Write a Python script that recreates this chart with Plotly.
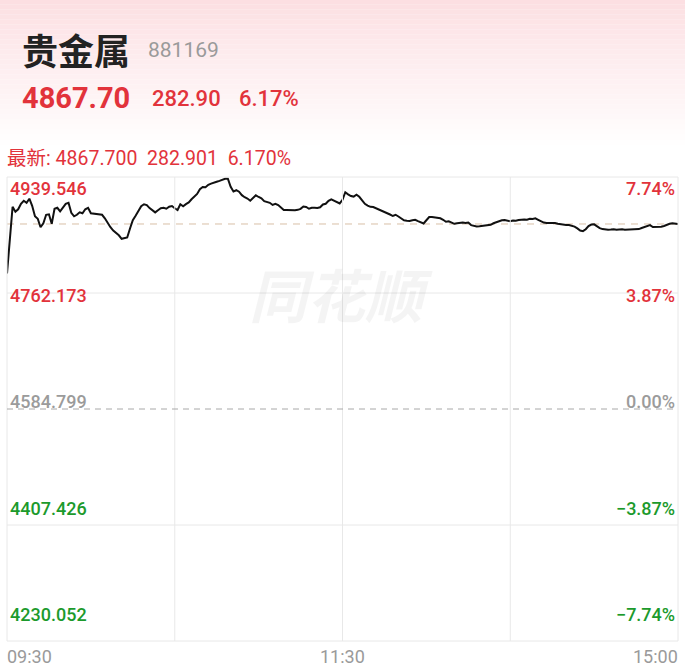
import plotly.graph_objects as go

# ---------------- data ----------------
name = "贵金属"
code = "881169"
last_price = 4867.70
change = 282.90
change_pct = 6.17
prev_close = 4584.799
latest_line = "最新: 4867.700  282.901  6.170%"

level_values = [4939.546, 4762.173, 4584.799, 4407.426, 4230.052]
level_labels = ["4939.546", "4762.173", "4584.799", "4407.426", "4230.052"]
pct_labels = ["7.74%", "3.87%", "0.00%", "-3.87%", "-7.74%"]
time_labels = ["09:30", "11:30", "15:00"]

# 09:30 .. 11:30 (121 minutes)
am_prices = [
    4792.0, 4843.0, 4894.0, 4886.4, 4890.2, 4898.6, 4903.2, 4900.1, 4906.3, 4895.5,
    4879.5, 4875.7, 4862.7, 4868.8, 4881.8, 4882.5, 4868.0, 4891.0, 4892.5, 4887.1,
    4893.3, 4898.6, 4900.1, 4884.8, 4879.5, 4881.8, 4885.6, 4884.1, 4890.2, 4892.5,
    4884.1, 4883.6, 4883.3, 4882.8, 4881.8, 4876.4, 4869.1, 4862.7, 4857.6, 4854.2,
    4850.4, 4845.1, 4846.3, 4847.0, 4860.8, 4873.4, 4880.2, 4887.6, 4894.8, 4897.8,
    4896.6, 4892.0, 4888.4, 4885.4, 4888.7, 4891.7, 4892.5, 4891.0, 4894.0, 4895.1,
    4891.7, 4889.0, 4897.8, 4894.8, 4898.1, 4900.6, 4905.5, 4909.6, 4913.6, 4920.8,
    4924.2, 4923.9, 4927.7, 4929.5, 4931.3, 4932.3, 4933.6, 4935.6, 4936.9, 4936.9,
    4924.6, 4917.3, 4919.3, 4917.0, 4911.8, 4908.6, 4906.6, 4903.2, 4907.3, 4911.6,
    4909.0, 4906.9, 4902.7, 4901.7, 4900.1, 4896.8, 4898.6, 4896.6, 4892.2, 4889.0,
    4889.0, 4888.7, 4888.4, 4888.7, 4889.3, 4890.8, 4894.5, 4893.7, 4891.0, 4892.5,
    4892.5, 4892.2, 4893.3, 4897.5, 4898.6, 4903.2, 4905.5, 4903.2, 4900.9, 4899.2,
    4904.7,
]
# 13:01 .. 15:00 (120 minutes)
pm_prices = [
    4916.2, 4913.1, 4910.4, 4909.6, 4912.4, 4909.3, 4904.0, 4898.6, 4895.9, 4894.0,
    4893.6, 4891.7, 4889.7, 4887.9, 4887.1, 4884.8, 4882.2, 4879.9, 4881.8, 4879.2,
    4875.7, 4873.4, 4872.6, 4872.3, 4873.4, 4874.1, 4872.1, 4870.0, 4868.5, 4873.4,
    4878.4, 4878.3, 4877.6, 4877.2, 4876.4, 4874.1, 4871.1, 4871.8, 4870.3, 4868.0,
    4868.9, 4869.5, 4869.8, 4869.1, 4869.8, 4866.0, 4864.6, 4863.9, 4864.3, 4864.9,
    4865.7, 4866.2, 4866.5, 4868.8, 4870.5, 4872.0, 4873.5, 4873.8, 4872.7, 4871.8,
    4873.1, 4872.6, 4873.7, 4874.7, 4874.7, 4874.3, 4875.7, 4875.2, 4876.3, 4874.1,
    4871.5, 4869.8, 4869.2, 4869.4, 4869.8, 4869.2, 4868.0, 4867.2, 4866.5, 4866.3,
    4866.0, 4865.4, 4863.7, 4861.0, 4857.6, 4856.7, 4859.6, 4864.5, 4866.9, 4867.2,
    4864.3, 4861.4, 4859.9, 4858.8, 4858.8, 4859.1, 4859.7, 4858.8, 4859.3, 4859.6,
    4859.0, 4859.1, 4859.7, 4859.4, 4858.8, 4859.9, 4861.6, 4863.4, 4865.3, 4866.0,
    4863.0, 4863.0, 4863.0, 4863.6, 4864.6, 4866.9, 4868.0, 4868.9, 4868.3, 4867.7,
]

# session minute categories
am_times = []
for m in range(9 * 60 + 30, 11 * 60 + 31):
    am_times.append(f"{m // 60:02d}:{m % 60:02d}")
pm_times = []
for m in range(13 * 60 + 1, 15 * 60 + 1):
    pm_times.append(f"{m // 60:02d}:{m % 60:02d}")
times = am_times + pm_times
prices = am_prices + pm_prices

# ---------------- layout helpers ----------------
W, H = 685, 668
L, R, T, B = 7, 678, 177.2, 641


def px(x):
    return (x - L) / (R - L)


def py(y):
    return (B - y) / (B - T)


RED = "#e2333b"
GREEN = "#1c9a2c"
GRAY = "#9b9b9b"
NUM_FONT = "Roboto, 'Noto Sans CJK SC', sans-serif"
CJK_FONT = "'Noto Sans CJK SC', 'Noto Sans', sans-serif"

fig = go.Figure()
fig.add_trace(go.Scatter(
    x=times, y=prices, mode="lines",
    line=dict(color="#111111", width=2),
    connectgaps=True, hoverinfo="skip", showlegend=False,
))

shapes = []
# pink header gradient
n_bands = 30
top_rgb = (252, 222, 225)
for i in range(n_bands):
    y0 = i * 150 / n_bands
    y1 = (i + 1) * 150 / n_bands
    t = (i + 0.5) / n_bands
    c = [round(a + (255 - a) * t ** 0.9) for a in top_rgb]
    shapes.append(dict(type="rect", xref="paper", yref="paper",
                       x0=px(0), x1=px(W), y0=py(y1), y1=py(y0),
                       fillcolor=f"rgb({c[0]},{c[1]},{c[2]})", line=dict(width=0),
                       layer="below"))

# plot border
shapes.append(dict(type="rect", xref="paper", yref="paper", x0=0, x1=1, y0=0, y1=1,
                   line=dict(color="#e8e8e8", width=1)))
# vertical grid lines (10:30, 11:30/13:00, 14:00)
for idx in [60, 120, 180]:
    shapes.append(dict(type="line", xref="x", yref="paper", x0=idx, x1=idx, y0=0, y1=1,
                       line=dict(color="#e8e8e8", width=1)))
# horizontal grid lines
for v in [level_values[1], level_values[3]]:
    shapes.append(dict(type="line", xref="paper", yref="y", x0=0, x1=1, y0=v, y1=v,
                       line=dict(color="#e8e8e8", width=1)))
# previous close dashed
shapes.append(dict(type="line", xref="paper", yref="y", x0=0, x1=1,
                   y0=prev_close, y1=prev_close,
                   line=dict(color="#a8a8a8", width=1, dash="6px,5px")))
# latest price dashed line
shapes.append(dict(type="line", xref="paper", yref="y", x0=0, x1=1,
                   y0=last_price, y1=last_price,
                   line=dict(color="#d9bfa6", width=1, dash="7px,6px"),
                   layer="below"))

ann = []
# watermark
ann.append(dict(text="同花顺", x=px(341), y=py(293), xref="paper", yref="paper",
                showarrow=False, xanchor="center", yanchor="middle",
                font=dict(family=CJK_FONT, size=58, color="rgba(0,0,0,0.045)",
                          style="italic", weight="bold")))
# header
ann.append(dict(text=name, x=px(20), y=py(49), xref="paper", yref="paper",
                showarrow=False, xanchor="left", yanchor="middle",
                font=dict(family=CJK_FONT, size=36, color="#222222", weight="bold")))
ann.append(dict(text=code, x=px(146), y=py(50), xref="paper", yref="paper",
                showarrow=False, xanchor="left", yanchor="middle",
                font=dict(family=NUM_FONT, size=21, color="#9a9a9a")))
ann.append(dict(text=f"{last_price:.2f}", x=px(20), y=py(98), xref="paper", yref="paper",
                showarrow=False, xanchor="left", yanchor="middle",
                font=dict(family=NUM_FONT, size=29, color=RED, weight="bold")))
ann.append(dict(text=f"{change:.2f}", x=px(150), y=py(99), xref="paper", yref="paper",
                showarrow=False, xanchor="left", yanchor="middle",
                font=dict(family=NUM_FONT, size=22, color=RED, weight=500)))
ann.append(dict(text=f"{change_pct:.2f}%", x=px(237), y=py(99), xref="paper", yref="paper",
                showarrow=False, xanchor="left", yanchor="middle",
                font=dict(family=NUM_FONT, size=22, color=RED, weight=500)))
ann.append(dict(text=latest_line.replace("  ", "&nbsp; "),
                x=px(5), y=py(159), xref="paper", yref="paper",
                showarrow=False, xanchor="left", yanchor="middle",
                font=dict(family=NUM_FONT, size=19.5, color=RED)))

# y labels
label_y = [189, 296, 402, 509, 615]
label_colors = [RED, RED, GRAY, GREEN, GREEN]
for lab, pct, yy, col in zip(level_labels, pct_labels, label_y, label_colors):
    ann.append(dict(text=lab, x=px(8), y=py(yy), xref="paper", yref="paper",
                    showarrow=False, xanchor="left", yanchor="middle",
                    font=dict(family=NUM_FONT, size=18, color=col, weight=500)))
    ann.append(dict(text=pct.replace("-", "−"), x=px(677), y=py(yy), xref="paper", yref="paper",
                    showarrow=False, xanchor="right", yanchor="middle",
                    font=dict(family=NUM_FONT, size=18, color=col, weight=500)))

# time labels
for lab, xx, anc in zip(time_labels, [5, 342, 680], ["left", "center", "right"]):
    ann.append(dict(text=lab, x=px(xx), y=py(656), xref="paper", yref="paper",
                    showarrow=False, xanchor=anc, yanchor="middle",
                    font=dict(family=NUM_FONT, size=18, color="#9a9a9a")))

fig.update_layout(
    width=W, height=H,
    margin=dict(l=L, r=W - R, t=T, b=H - B, pad=0),
    paper_bgcolor="white", plot_bgcolor="rgba(0,0,0,0)",
    shapes=shapes, annotations=ann,
    xaxis=dict(type="category", categoryarray=times, categoryorder="array",
               range=[0, len(times) - 1], showgrid=False, zeroline=False,
               showticklabels=False, ticks="", fixedrange=True),
    yaxis=dict(range=[level_values[-1], level_values[0]], showgrid=False,
               zeroline=False, showticklabels=False, ticks="", fixedrange=True),
    showlegend=False,
)

fig.write_html("out.html", config={"displayModeBar": False})
